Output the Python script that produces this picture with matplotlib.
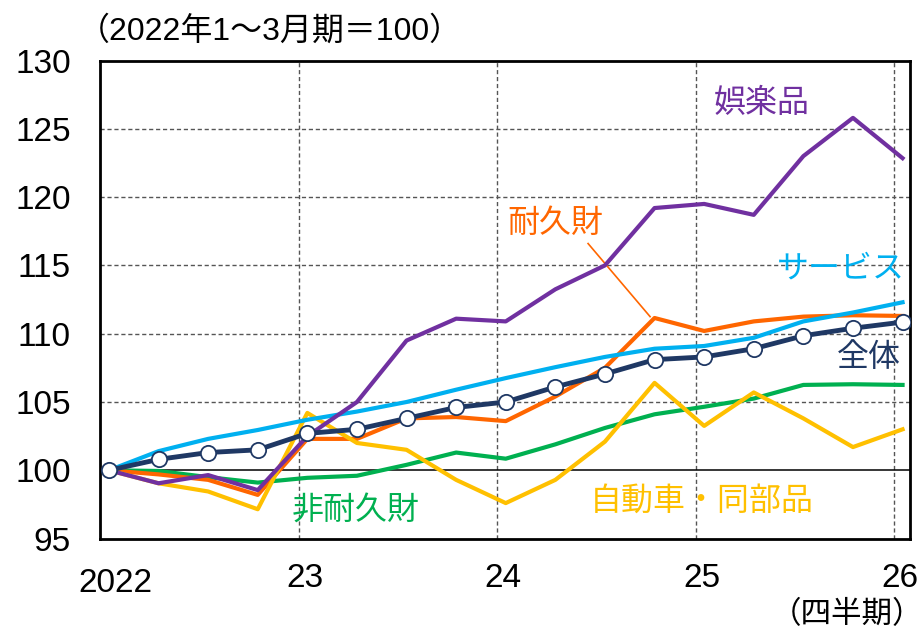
import matplotlib
matplotlib.use("Agg")
import matplotlib.pyplot as plt

plt.rcParams['font.family'] = ['Liberation Sans', 'Noto Sans CJK JP', 'DejaVu Sans']

quarters = list(range(17))
year_labels = ["2022", "23", "24", "25", "26"]
year_pos = [0, 4, 8, 12, 16]

total = [100, 100.8, 101.3, 101.5, 102.7, 103.0, 103.8, 104.6, 105.0, 106.1,
         107.05, 108.1, 108.3, 108.9, 109.85, 110.4, 110.85]
services = [100, 101.4, 102.3, 102.95, 103.7, 104.3, 105.0, 105.9, 106.75, 107.55,
            108.3, 108.9, 109.1, 109.7, 110.9, 111.55, 112.3]
durable = [100, 99.7, 99.3, 98.2, 102.3, 102.3, 103.8, 103.9, 103.6, 105.4,
           107.5, 111.15, 110.2, 110.9, 111.25, 111.35, 111.3]
nondurable = [100, 99.95, 99.5, 99.1, 99.45, 99.6, 100.4, 101.3, 100.85, 101.9,
              103.1, 104.1, 104.65, 105.25, 106.25, 106.3, 106.25]
autos = [100, 99.05, 98.45, 97.15, 104.2, 102.0, 101.5, 99.3, 97.6, 99.3,
         102.1, 106.4, 103.25, 105.7, 103.8, 101.7, 103.0]
recreation = [100, 99.05, 99.65, 98.55, 102.5, 105.0, 109.5, 111.1, 110.9, 113.25,
              115.0, 119.2, 119.5, 118.7, 123.0, 125.8, 122.85]

c_total = "#1F3864"
c_serv = "#00B0F0"
c_dur = "#FF6600"
c_nondur = "#00B050"
c_auto = "#FFC000"
c_rec = "#7030A0"

fig = plt.figure(figsize=(9.23, 6.35), dpi=100)
ax = fig.add_axes([100/923, (635-538.6)/635, 810/923, 478.1/635])

ax.set_xlim(-0.18, 16.15)
ax.set_ylim(95, 130)

# grid
for y in [105, 110, 115, 120, 125]:
    ax.axhline(y, color="#555555", lw=1.0, ls=(0, (3, 2)), zorder=1)
for p in year_pos[1:]:
    ax.axvline(p - 0.17, color="#555555", lw=1.0, ls=(0, (3, 2)), zorder=1)
ax.axhline(100, color="black", lw=1.1, zorder=2)

ax.plot(quarters, nondurable, color=c_nondur, lw=3.0, zorder=3)
ax.plot(quarters, durable, color=c_dur, lw=3.0, zorder=3)
ax.plot(quarters, autos, color=c_auto, lw=3.0, zorder=4)
ax.plot(quarters, services, color=c_serv, lw=3.0, zorder=4)
ax.plot(quarters, recreation, color=c_rec, lw=3.0, zorder=5)
ax.plot(quarters, total, color=c_total, lw=3.5, zorder=6, marker="o", markersize=11,
        markerfacecolor="white", markeredgecolor=c_total, markeredgewidth=1.3)

ax.set_yticks([95, 100, 105, 110, 115, 120, 125, 130])
ax.tick_params(axis="y", length=0, labelsize=24, pad=21)
ax.set_xticks([])

for s in ax.spines.values():
    s.set_linewidth(2.0)
    s.set_color("black")

# x labels
for p, lab in zip(year_pos, year_labels):
    if p == 0:
        ax.text(p + 0.14, -0.093, lab, transform=ax.get_xaxis_transform(),
                ha="center", va="center", fontsize=24, color="black")
    else:
        ax.text(p - 0.05, -0.0835, lab, transform=ax.get_xaxis_transform(),
                ha="center", va="center", fontsize=24, color="black")

cjk = ['Noto Sans CJK JP', 'DejaVu Sans']
fig.text(923/923, 1 - 615/635, "（四半期）", ha="right", va="center", fontsize=22,
         family=cjk)
fig.text(78/923, 1 - 31/635, "（2022年1～3月期＝100）", ha="left", va="center", fontsize=23)

ax.text(13.17, 126.9, "娯楽品", color=c_rec, fontsize=23, family=cjk, ha="center", va="center")
ax.text(9.0, 118.1, "耐久財", color=c_dur, fontsize=23, family=cjk, ha="center", va="center")
ax.text(14.76, 114.8, "サービス", color=c_serv, fontsize=23, family=cjk, ha="center", va="center")
ax.text(15.32, 108.3, "全体", color=c_total, fontsize=23, family=cjk, ha="center", va="center")
ax.text(4.98, 97.15, "非耐久財", color=c_nondur, fontsize=23, family=cjk, ha="center", va="center")
ax.text(11.96, 97.75, "自動車・同部品", color=c_auto, fontsize=23, family=cjk, ha="center", va="center")

# leader line for 耐久財
ax.plot([9.66, 10.91], [116.6, 111.25], color=c_dur, lw=1.2, zorder=3)

fig.savefig("out.png", dpi=100)
